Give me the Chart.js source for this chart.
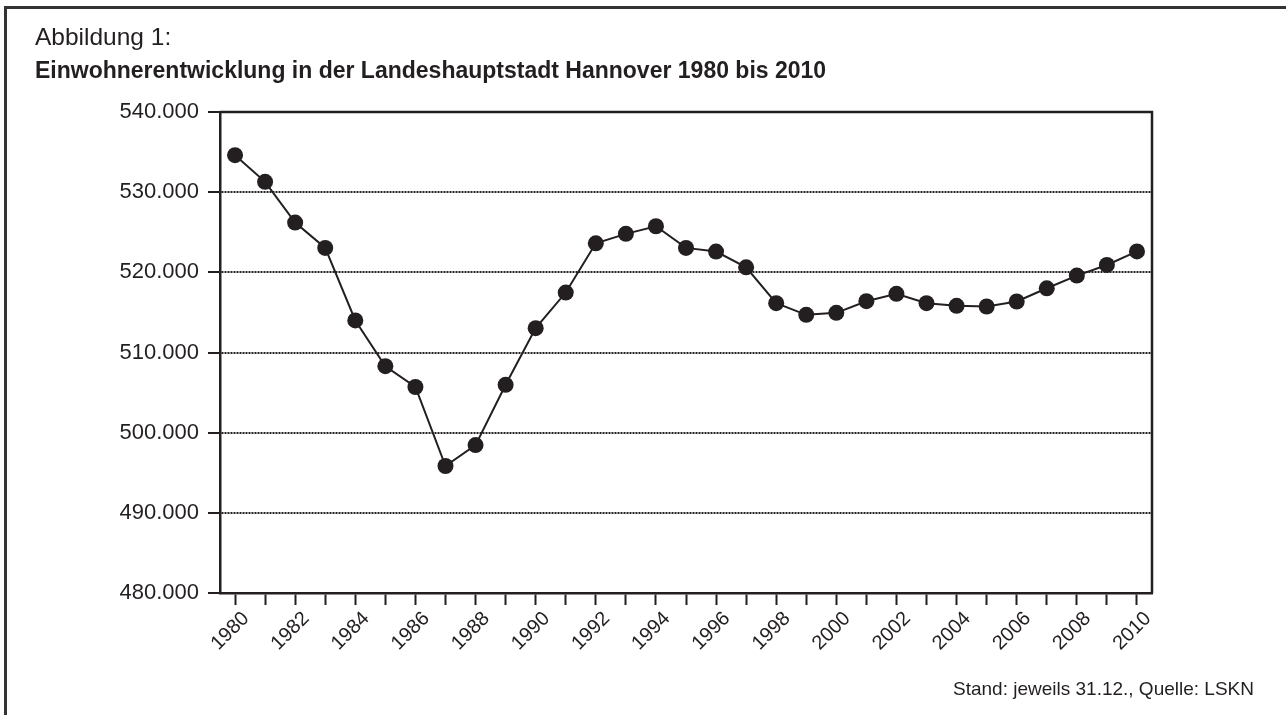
<!DOCTYPE html>
<html lang="de">
<head>
<meta charset="utf-8">
<title>Einwohnerentwicklung Hannover 1980 bis 2010</title>
<script src="https://cdn.jsdelivr.net/npm/chart.js@4.4.1/dist/chart.umd.min.js"></script>
<style>
  html, body { margin: 0; padding: 0; background: #fff; }
  #wrap { position: relative; width: 1286px; height: 715px; overflow: hidden; }
  #rahmen {
    position: absolute; left: 4px; top: 6px; width: 1400px; height: 800px;
    border-top: 3px solid #333; border-left: 3px solid #333;
  }
  .txt { position: absolute; color: #231f20; font-family: "Liberation Sans", Arial, sans-serif; white-space: nowrap; }
  #abb   { left: 35px; top: 23px; font-size: 24.5px; }
  #titel { left: 35px; top: 57px; font-size: 23px; font-weight: bold; }
  #quelle { right: 32px; top: 678px; font-size: 19px; }
  #chart { position: absolute; left: 0; top: 0; }
</style>
</head>
<body>
<div id="wrap">
  <div id="rahmen"></div>
  <canvas id="chart" width="1286" height="715"></canvas>
  <div class="txt" id="abb">Abbildung 1:</div>
  <div class="txt" id="titel">Einwohnerentwicklung in der Landeshauptstadt Hannover 1980 bis 2010</div>
  <div class="txt" id="quelle">Stand: jeweils 31.12., Quelle: LSKN</div>
</div>
<script>
// Einwohner jeweils zum 31.12.
var jahre = ["1980","1981","1982","1983","1984","1985","1986","1987","1988","1989",
             "1990","1991","1992","1993","1994","1995","1996","1997","1998","1999",
             "2000","2001","2002","2003","2004","2005","2006","2007","2008","2009","2010"];
var einwohner = [534620, 531290, 526210, 523040, 514000, 508290, 505700, 495840, 498450, 505970,
                 513040, 517480, 523620, 524800, 525750, 523050, 522590, 520620, 516150, 514700,
                 514950, 516400, 517320, 516150, 515820, 515740, 516360, 518010, 519590, 520920, 522610];
var yMin = 480000, yMax = 540000, yStep = 10000;

var INK = "#231f20";
var FONT = "'Liberation Sans', Arial, sans-serif";

function fmtDe(v) {
  return String(Math.round(v)).replace(/\B(?=(\d{3})+(?!\d))/g, ".");
}

// oberer und rechter Rahmen des Plotbereichs
var rahmenPlugin = {
  id: "rahmen",
  beforeDatasetsDraw: function(chart) {
    var a = chart.chartArea, ctx = chart.ctx;
    ctx.save();
    ctx.strokeStyle = INK;
    ctx.lineWidth = 2.5;
    ctx.beginPath();
    ctx.moveTo(a.left, a.top);
    ctx.lineTo(a.right, a.top);
    ctx.lineTo(a.right, a.bottom);
    ctx.stroke();
    ctx.restore();
  }
};

new Chart(document.getElementById("chart"), {
  type: "line",
  data: {
    labels: jahre,
    datasets: [{
      label: "Einwohner",
      data: einwohner,
      borderColor: INK,
      borderWidth: 2,
      backgroundColor: INK,
      pointBackgroundColor: INK,
      pointBorderWidth: 0,
      pointRadius: 8,
      tension: 0,
      clip: false
    }]
  },
  options: {
    responsive: false,
    animation: false,
    layout: { padding: { left: 0, right: 134, top: 112, bottom: 0 } },
    plugins: { legend: { display: false }, tooltip: { enabled: false } },
    scales: {
      x: {
        type: "category",
        offset: true,
        afterFit: function(s) { s.height = 122; },
        grid: { display: true, drawOnChartArea: false, tickLength: 12, tickColor: INK, tickWidth: 2 },
        border: { color: INK, width: 2.5 },
        ticks: {
          autoSkip: false, maxRotation: 45, minRotation: 45,
          labelOffset: 11, padding: 2,
          color: INK, font: { family: FONT, size: 20 },
          callback: function(v, i) { return i % 2 === 0 ? jahre[i] : ""; }
        }
      },
      y: {
        min: yMin, max: yMax,
        afterFit: function(s) { s.width = 220; },
        grid: { color: INK, lineWidth: 2, tickLength: 12, tickColor: INK, tickWidth: 2, tickBorderDash: [] },
        border: { color: INK, width: 2.5, dash: [2, 1] },
        ticks: {
          stepSize: yStep, padding: 9,
          color: INK, font: { family: FONT, size: 22 },
          callback: function(v) { return fmtDe(v); }
        }
      }
    }
  },
  plugins: [rahmenPlugin]
});
</script>
</body>
</html>
